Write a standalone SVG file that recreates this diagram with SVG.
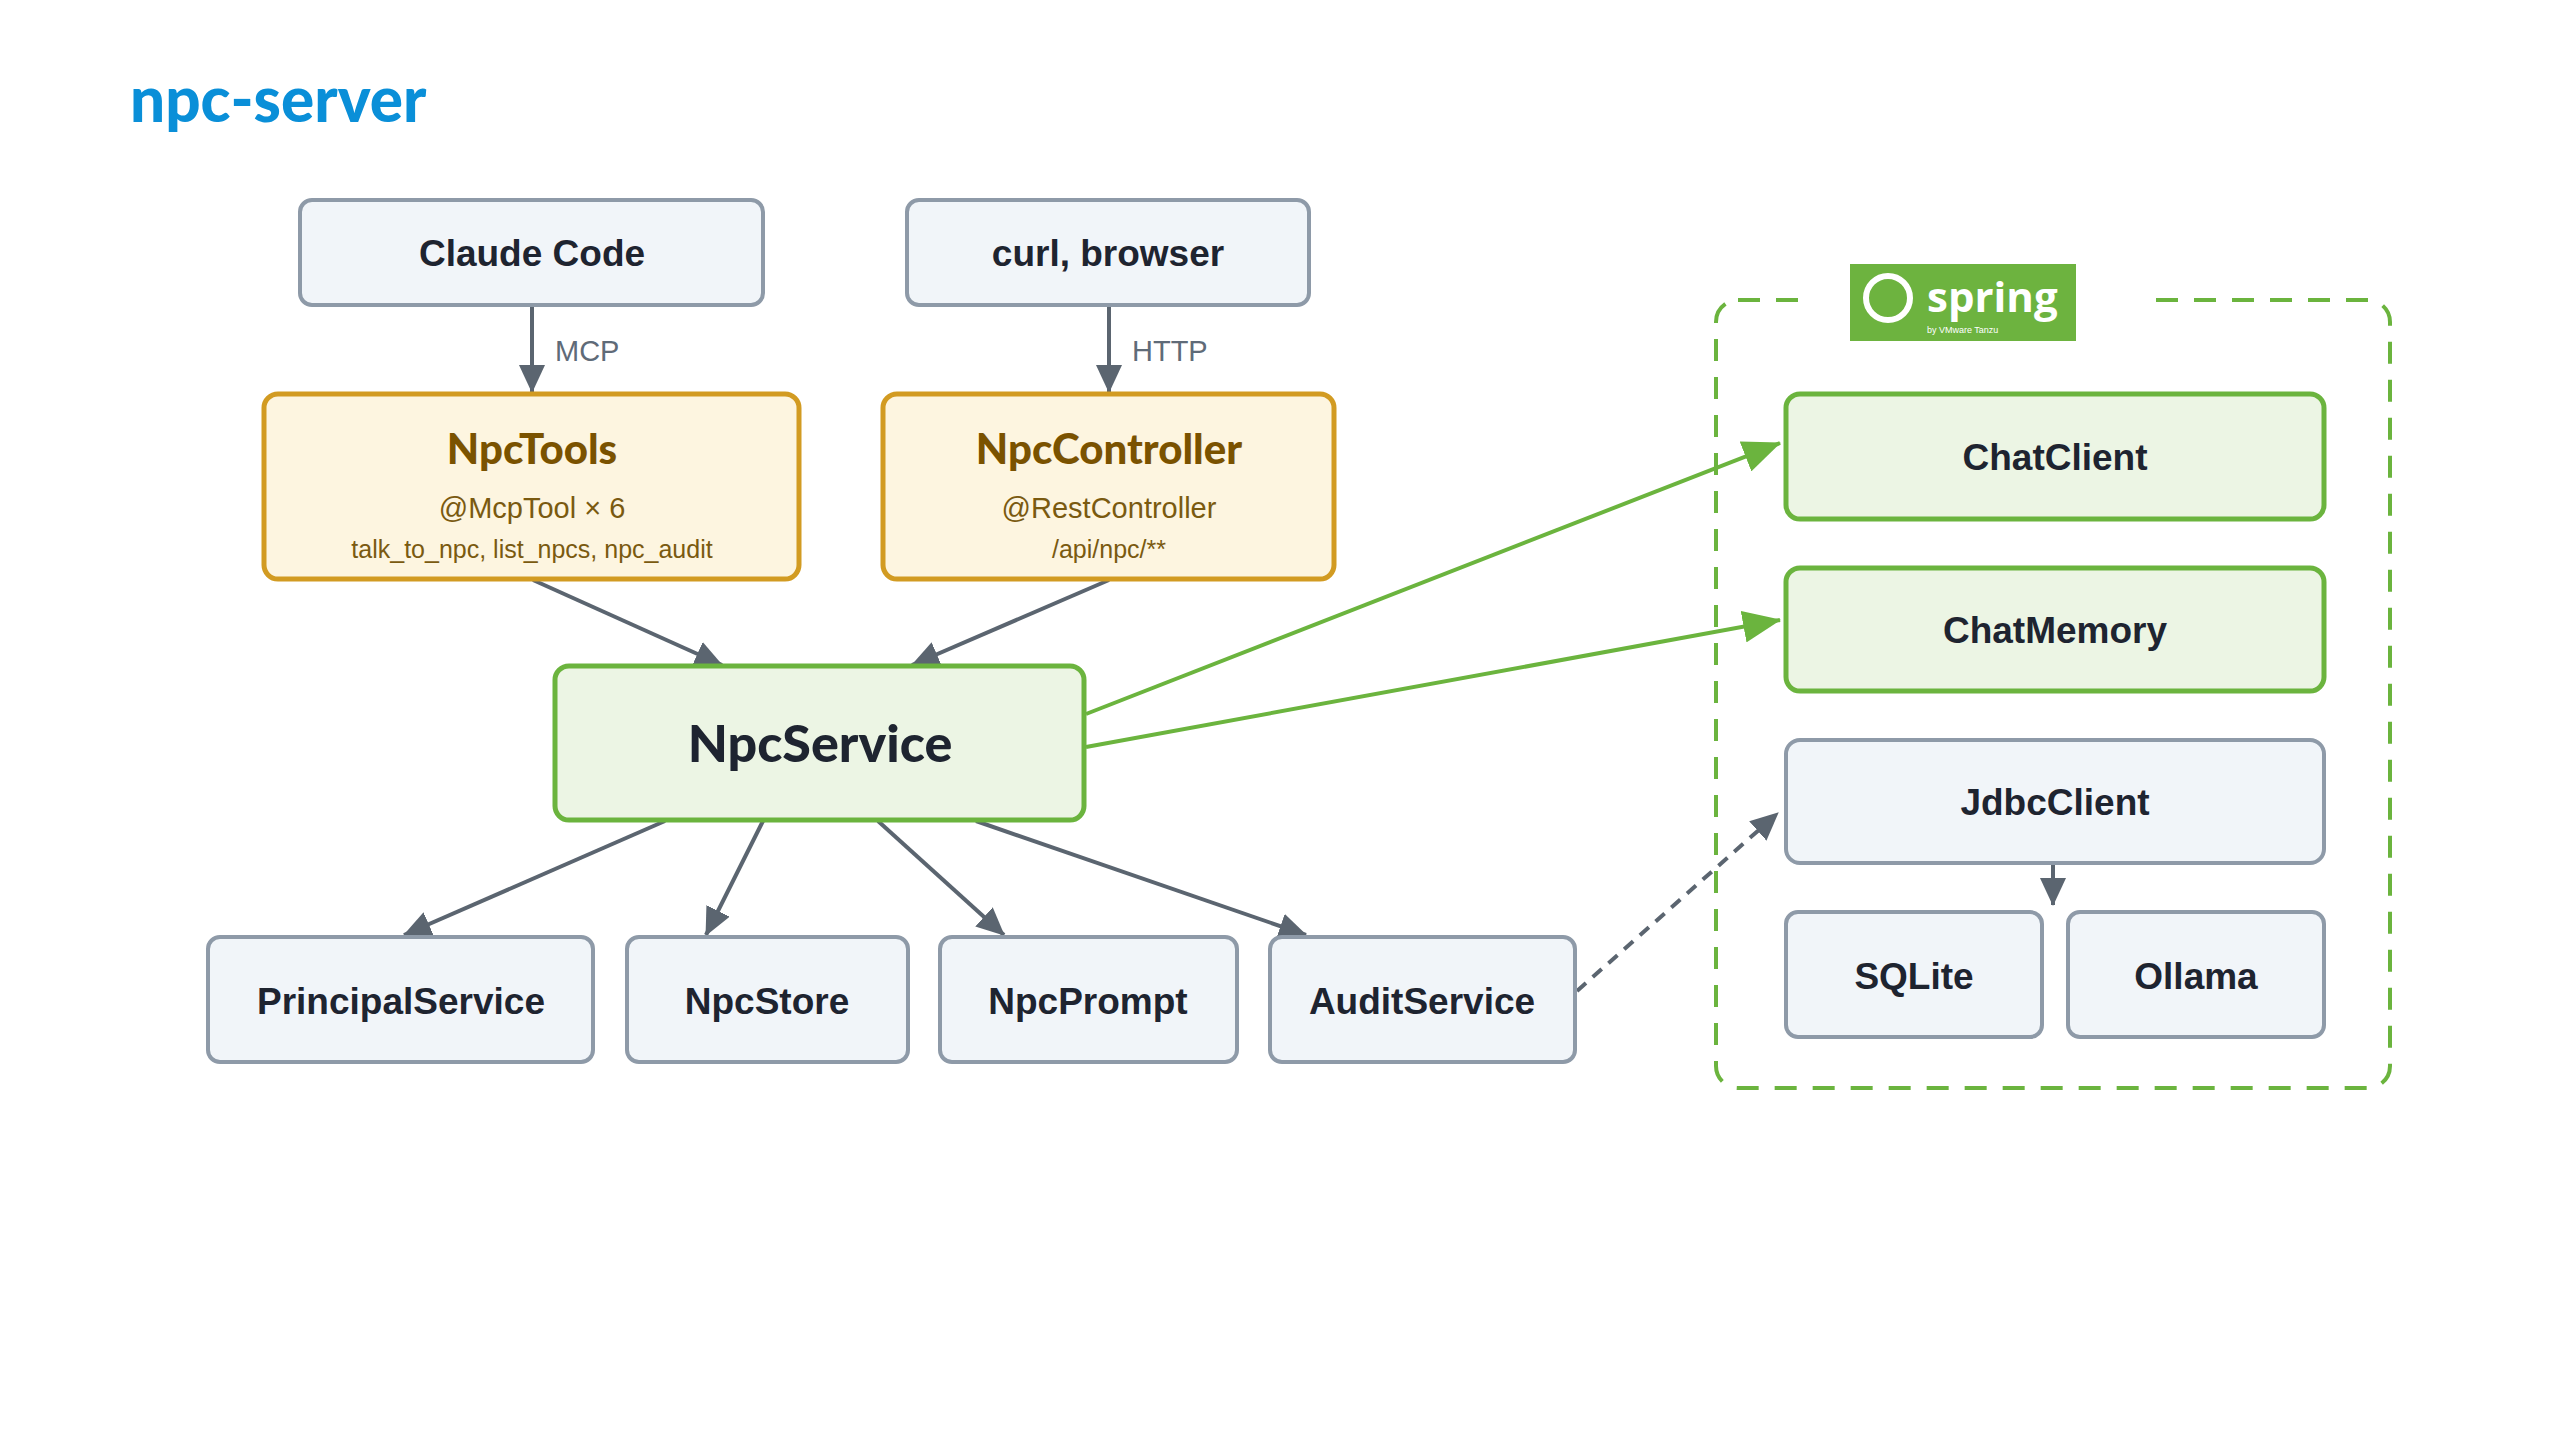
<svg xmlns="http://www.w3.org/2000/svg" width="2560" height="1440" viewBox="0 0 2560 1440">
<style>
.g{fill:#f1f5f9;stroke:#8e9aa8;stroke-width:4}
.y{fill:#fdf5e0;stroke:#d29b22;stroke-width:5}
.gr{fill:#ecf5e4;stroke:#6bb43e;stroke-width:5}
.t{font-family:"Liberation Sans",Arial,sans-serif;font-weight:bold;font-size:37px;fill:#1e2430;text-anchor:middle}
.h{font-family:Lato,"Liberation Sans",sans-serif;font-weight:900;text-anchor:middle}
.s{font-family:"Liberation Sans",Arial,sans-serif;fill:#7a5a10;text-anchor:middle}
.l{font-family:"Liberation Sans",Arial,sans-serif;font-size:29px;fill:#5f6b78}
.c{stroke:#5b6570;stroke-width:4;fill:none}
.cg{stroke:#6bb43e;stroke-width:4;fill:none}
</style>
<defs>
<marker id="a" viewBox="0 0 28 26" refX="27" refY="13" markerWidth="28" markerHeight="26" markerUnits="userSpaceOnUse" orient="auto"><path d="M0,0 L28,13 L0,26 z" fill="#5b6570"/></marker>
<marker id="ag" viewBox="0 0 38 32" refX="37" refY="16" markerWidth="38" markerHeight="32" markerUnits="userSpaceOnUse" orient="auto"><path d="M0,0 L38,16 L0,32 z" fill="#6bb43e"/></marker>
</defs>
<rect width="2560" height="1440" fill="#fff"/>
<text x="130" y="122" font-family="Lato,'Liberation Sans',sans-serif" font-weight="900" font-size="62" fill="#0a8fd8">npc-server</text>

<rect x="1716" y="300" width="674" height="788" rx="22" fill="none" stroke="#6bb43e" stroke-width="4" stroke-dasharray="22,16"/>
<g id="spring">
<rect x="1805" y="290" width="345" height="20" fill="#fff"/>
<rect x="1850" y="264" width="226" height="77" fill="#6db33f"/>
<circle cx="1888" cy="298" r="22" fill="none" stroke="#fff" stroke-width="6"/>
<text x="1927" y="312" font-family="'Open Sans','Liberation Sans',sans-serif" font-weight="bold" font-size="42" fill="#fff">spring</text>
<text x="1927" y="333" font-family="'Liberation Sans',sans-serif" font-size="9" fill="#fff">by VMware Tanzu</text>
</g>

<g id="connectors">
<line x1="532" y1="305" x2="532" y2="392" class="c" marker-end="url(#a)"/>
<text x="555" y="361" class="l">MCP</text>
<line x1="1109" y1="305" x2="1109" y2="392" class="c" marker-end="url(#a)"/>
<text x="1132" y="361" class="l">HTTP</text>
<line x1="533" y1="580" x2="722" y2="665" class="c" marker-end="url(#a)"/>
<line x1="1109" y1="580" x2="912" y2="665" class="c" marker-end="url(#a)"/>
<line x1="1086" y1="714" x2="1780" y2="443" class="cg" marker-end="url(#ag)"/>
<line x1="1086" y1="747" x2="1780" y2="620" class="cg" marker-end="url(#ag)"/>
<line x1="665" y1="821" x2="404" y2="935" class="c" marker-end="url(#a)"/>
<line x1="763" y1="821" x2="706" y2="935" class="c" marker-end="url(#a)"/>
<line x1="878" y1="821" x2="1004" y2="935" class="c" marker-end="url(#a)"/>
<line x1="976" y1="821" x2="1306" y2="935" class="c" marker-end="url(#a)"/>
<line x1="1577" y1="991" x2="1778" y2="813" class="c" stroke-dasharray="12,9" marker-end="url(#a)"/>
<line x1="2053" y1="864" x2="2053" y2="905" class="c" marker-end="url(#a)"/>
</g>

<g id="claude"><rect x="300" y="200" width="463" height="105" rx="12" class="g"/><text x="532" y="266" class="t">Claude Code</text></g>
<g id="curl"><rect x="907" y="200" width="402" height="105" rx="12" class="g"/><text x="1108" y="266" class="t">curl, browser</text></g>
<g id="npctools"><rect x="264" y="394" width="535" height="185" rx="14" class="y"/>
<text x="532" y="464" class="h" font-size="42" fill="#7a5200">NpcTools</text>
<text x="532" y="518" class="s" font-size="29">@McpTool × 6</text>
<text x="532" y="558" class="s" font-size="25">talk_to_npc, list_npcs, npc_audit</text></g>
<g id="npccontroller"><rect x="883" y="394" width="451" height="185" rx="14" class="y"/>
<text x="1109" y="464" class="h" font-size="42" fill="#7a5200">NpcController</text>
<text x="1109" y="518" class="s" font-size="29">@RestController</text>
<text x="1109" y="558" class="s" font-size="25">/api/npc/**</text></g>
<g id="npcservice"><rect x="555" y="666" width="529" height="154" rx="14" class="gr" stroke-width="6"/>
<text x="820" y="762" class="h" font-size="52" fill="#1e2430">NpcService</text></g>
<g id="principal"><rect x="208" y="937" width="385" height="125" rx="12" class="g"/><text x="401" y="1014" class="t">PrincipalService</text></g>
<g id="npcstore"><rect x="627" y="937" width="281" height="125" rx="12" class="g"/><text x="767" y="1014" class="t">NpcStore</text></g>
<g id="npcprompt"><rect x="940" y="937" width="297" height="125" rx="12" class="g"/><text x="1088" y="1014" class="t">NpcPrompt</text></g>
<g id="audit"><rect x="1270" y="937" width="305" height="125" rx="12" class="g"/><text x="1422" y="1014" class="t">AuditService</text></g>
<g id="chatclient"><rect x="1786" y="394" width="538" height="125" rx="14" class="gr"/><text x="2055" y="470" class="t">ChatClient</text></g>
<g id="chatmemory"><rect x="1786" y="568" width="538" height="123" rx="14" class="gr"/><text x="2055" y="643" class="t">ChatMemory</text></g>
<g id="jdbc"><rect x="1786" y="740" width="538" height="123" rx="14" class="g"/><text x="2055" y="815" class="t">JdbcClient</text></g>
<g id="sqlite"><rect x="1786" y="912" width="256" height="125" rx="12" class="g"/><text x="1914" y="989" class="t">SQLite</text></g>
<g id="ollama"><rect x="2068" y="912" width="256" height="125" rx="12" class="g"/><text x="2196" y="989" class="t">Ollama</text></g>
</svg>
